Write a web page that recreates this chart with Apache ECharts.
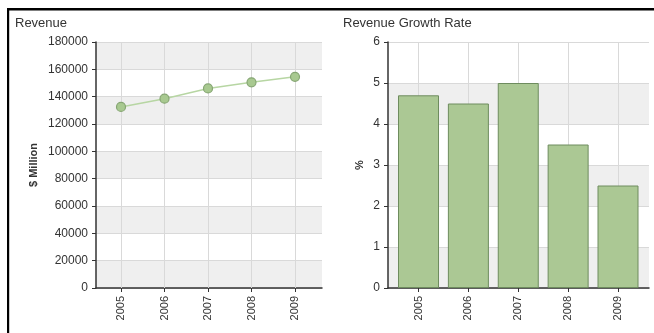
<!DOCTYPE html>
<html>
<head>
<meta charset="utf-8">
<script src="https://cdn.jsdelivr.net/npm/echarts@6/dist/echarts.min.js"></script>
<style>
html,body{margin:0;padding:0;background:#fff;}
#chart{width:654px;height:333px;}
</style>
</head>
<body>
<div id="chart"></div>
<script>
const categories = ['2005', '2006', '2007', '2008', '2009'];
const revenue = [132500, 138500, 146000, 150500, 154500];
const growthRate = [4.7, 4.5, 5.0, 3.5, 2.5];
const revenueTitle = 'Revenue';
const growthTitle = 'Revenue Growth Rate';
const revenueAxisName = '$ Million';
const growthAxisName = '%';

const FONT = 'Arial, "Liberation Sans", sans-serif';
const gridLine = '#d9d9d9';
const band = ['#efefef', '#ffffff'];
const axisColor = '#333';

const chart = echarts.init(document.getElementById('chart'), null, {renderer: 'canvas'});

function bgX(gridIndex) {
  return {
    gridIndex, type: 'value', min: 0, max: 1,
    axisLine: {show: true, lineStyle: {color: axisColor, width: 1.5}},
    axisTick: {show: false}, axisLabel: {show: false}, splitLine: {show: false}
  };
}
function bgY(gridIndex, max, interval, name, nameGap) {
  return {
    gridIndex, type: 'value', min: 0, max, interval, z: 0,
    name, nameLocation: 'middle', nameGap, nameRotate: 90,
    nameTextStyle: {fontFamily: FONT, fontSize: 11, fontWeight: 'bold', color: '#333'},
    axisLine: {show: true, lineStyle: {color: axisColor, width: 1.5}},
    axisTick: {show: true, length: 4, lineStyle: {color: axisColor}},
    axisLabel: {fontFamily: FONT, fontSize: 12, color: '#333', margin: 8, formatter: v => String(v)},
    splitLine: {show: true, lineStyle: {color: gridLine, width: 1}},
    splitArea: {show: true, areaStyle: {color: band}}
  };
}
function dataX(gridIndex) {
  return {
    gridIndex, type: 'category', data: categories, boundaryGap: false, z: 1,
    axisLine: {show: false},
    axisTick: {show: true, length: 4, lineStyle: {color: axisColor}},
    axisLabel: {rotate: 90, fontFamily: FONT, fontSize: 11, color: '#333', margin: 8},
    splitLine: {show: true, lineStyle: {color: gridLine, width: 1}}
  };
}
function dataY(gridIndex, max) {
  return {gridIndex, type: 'value', min: 0, max, show: false};
}

chart.setOption({
  animation: false,
  backgroundColor: '#fff',
  title: [
    {text: revenueTitle, left: 10, top: 12, textStyle: {fontFamily: FONT, fontSize: 13, fontWeight: 'normal', color: '#333'}},
    {text: growthTitle, left: 338, top: 12, textStyle: {fontFamily: FONT, fontSize: 13, fontWeight: 'normal', color: '#333'}}
  ],
  grid: [
    {left: 96, right: 332, top: 42, bottom: 45},
    {left: 121, right: 359, top: 42, bottom: 45},
    {left: 388, right: 5, top: 42, bottom: 45},
    {left: 418.5, right: 36, top: 42, bottom: 45}
  ],
  xAxis: [bgX(0), dataX(1), bgX(2), dataX(3)],
  yAxis: [
    bgY(0, 180000, 20000, revenueAxisName, 57),
    dataY(1, 180000),
    bgY(2, 6, 1, growthAxisName, 23),
    dataY(3, 6)
  ],
  series: [
    {
      type: 'line', xAxisIndex: 1, yAxisIndex: 1, data: revenue,
      symbol: 'circle', symbolSize: 9, clip: false,
      lineStyle: {color: '#b7d6a3', width: 1.5},
      itemStyle: {color: '#a8c990', borderColor: '#86a673', borderWidth: 1.2}
    },
    {
      type: 'bar', xAxisIndex: 3, yAxisIndex: 3, data: growthRate,
      barWidth: 41, clip: false,
      itemStyle: {color: '#abc894', borderColor: '#6e8c5e', borderWidth: 1}
    }
  ],
  graphic: [
    {type: 'rect', shape: {x: 7, y: 8, width: 660, height: 2.5}, style: {fill: '#000'}, z: 100},
    {type: 'rect', shape: {x: 7, y: 8, width: 2.2, height: 330}, style: {fill: '#000'}, z: 100}
  ]
});
</script>
</body>
</html>
